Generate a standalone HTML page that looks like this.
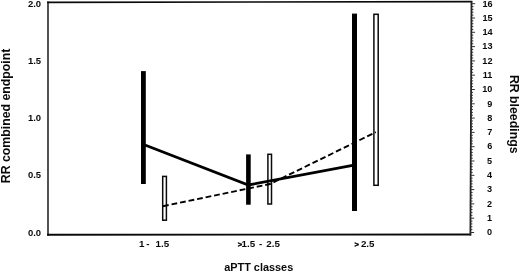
<!DOCTYPE html>
<html><head><meta charset="utf-8">
<style>
html,body{margin:0;padding:0;background:#fff;}
body{width:520px;height:272px;overflow:hidden;}
svg{display:block}
text{font-family:"Liberation Sans",sans-serif;font-weight:bold;fill:#0a0a0a;}
</style></head><body>
<svg width="520" height="272" viewBox="0 0 520 272">
<rect width="520" height="272" fill="#fff"/>
<path d="M48.0 235.70000000000002 L48.0 1.4999999999999998" fill="none" stroke="#4a4a4a" stroke-width="1.9"/>
<path d="M47.15 2.3 L472.3 1.7" fill="none" stroke="#0a0a0a" stroke-width="1.7"/>
<path d="M47.15 234.8 L471.2 234.5" fill="none" stroke="#0a0a0a" stroke-width="1.9"/>
<path d="M471.5 0.8999999999999999 L470.4 235.4" fill="none" stroke="#222" stroke-width="1.8"/>
<g stroke="#333" stroke-width="1">
<line x1="470.41" y1="232.50" x2="474.11" y2="232.50"/>
<line x1="470.42" y1="229.64" x2="472.42" y2="229.64"/>
<line x1="470.44" y1="226.78" x2="472.44" y2="226.78"/>
<line x1="470.45" y1="223.92" x2="472.45" y2="223.92"/>
<line x1="470.46" y1="221.06" x2="472.46" y2="221.06"/>
<line x1="470.48" y1="218.20" x2="474.18" y2="218.20"/>
<line x1="470.49" y1="215.34" x2="472.49" y2="215.34"/>
<line x1="470.50" y1="212.48" x2="472.50" y2="212.48"/>
<line x1="470.52" y1="209.62" x2="472.52" y2="209.62"/>
<line x1="470.53" y1="206.76" x2="472.53" y2="206.76"/>
<line x1="470.54" y1="203.90" x2="474.24" y2="203.90"/>
<line x1="470.56" y1="201.04" x2="472.56" y2="201.04"/>
<line x1="470.57" y1="198.18" x2="472.57" y2="198.18"/>
<line x1="470.59" y1="195.32" x2="472.59" y2="195.32"/>
<line x1="470.60" y1="192.46" x2="472.60" y2="192.46"/>
<line x1="470.61" y1="189.60" x2="474.31" y2="189.60"/>
<line x1="470.63" y1="186.74" x2="472.63" y2="186.74"/>
<line x1="470.64" y1="183.88" x2="472.64" y2="183.88"/>
<line x1="470.65" y1="181.02" x2="472.65" y2="181.02"/>
<line x1="470.67" y1="178.16" x2="472.67" y2="178.16"/>
<line x1="470.68" y1="175.30" x2="474.38" y2="175.30"/>
<line x1="470.69" y1="172.44" x2="472.69" y2="172.44"/>
<line x1="470.71" y1="169.58" x2="472.71" y2="169.58"/>
<line x1="470.72" y1="166.72" x2="472.72" y2="166.72"/>
<line x1="470.73" y1="163.86" x2="472.73" y2="163.86"/>
<line x1="470.75" y1="161.00" x2="474.45" y2="161.00"/>
<line x1="470.76" y1="158.14" x2="472.76" y2="158.14"/>
<line x1="470.77" y1="155.28" x2="472.77" y2="155.28"/>
<line x1="470.79" y1="152.42" x2="472.79" y2="152.42"/>
<line x1="470.80" y1="149.56" x2="472.80" y2="149.56"/>
<line x1="470.81" y1="146.70" x2="474.51" y2="146.70"/>
<line x1="470.83" y1="143.84" x2="472.83" y2="143.84"/>
<line x1="470.84" y1="140.98" x2="472.84" y2="140.98"/>
<line x1="470.86" y1="138.12" x2="472.86" y2="138.12"/>
<line x1="470.87" y1="135.26" x2="472.87" y2="135.26"/>
<line x1="470.88" y1="132.40" x2="474.58" y2="132.40"/>
<line x1="470.90" y1="129.54" x2="472.90" y2="129.54"/>
<line x1="470.91" y1="126.68" x2="472.91" y2="126.68"/>
<line x1="470.92" y1="123.82" x2="472.92" y2="123.82"/>
<line x1="470.94" y1="120.96" x2="472.94" y2="120.96"/>
<line x1="470.95" y1="118.10" x2="474.65" y2="118.10"/>
<line x1="470.96" y1="115.24" x2="472.96" y2="115.24"/>
<line x1="470.98" y1="112.38" x2="472.98" y2="112.38"/>
<line x1="470.99" y1="109.52" x2="472.99" y2="109.52"/>
<line x1="471.00" y1="106.66" x2="473.00" y2="106.66"/>
<line x1="471.02" y1="103.80" x2="474.72" y2="103.80"/>
<line x1="471.03" y1="100.94" x2="473.03" y2="100.94"/>
<line x1="471.04" y1="98.08" x2="473.04" y2="98.08"/>
<line x1="471.06" y1="95.22" x2="473.06" y2="95.22"/>
<line x1="471.07" y1="92.36" x2="473.07" y2="92.36"/>
<line x1="471.09" y1="89.50" x2="474.79" y2="89.50"/>
<line x1="471.10" y1="86.64" x2="473.10" y2="86.64"/>
<line x1="471.11" y1="83.78" x2="473.11" y2="83.78"/>
<line x1="471.13" y1="80.92" x2="473.13" y2="80.92"/>
<line x1="471.14" y1="78.06" x2="473.14" y2="78.06"/>
<line x1="471.15" y1="75.20" x2="474.85" y2="75.20"/>
<line x1="471.17" y1="72.34" x2="473.17" y2="72.34"/>
<line x1="471.18" y1="69.48" x2="473.18" y2="69.48"/>
<line x1="471.19" y1="66.62" x2="473.19" y2="66.62"/>
<line x1="471.21" y1="63.76" x2="473.21" y2="63.76"/>
<line x1="471.22" y1="60.90" x2="474.92" y2="60.90"/>
<line x1="471.23" y1="58.04" x2="473.23" y2="58.04"/>
<line x1="471.25" y1="55.18" x2="473.25" y2="55.18"/>
<line x1="471.26" y1="52.32" x2="473.26" y2="52.32"/>
<line x1="471.27" y1="49.46" x2="473.27" y2="49.46"/>
<line x1="471.29" y1="46.60" x2="474.99" y2="46.60"/>
<line x1="471.30" y1="43.74" x2="473.30" y2="43.74"/>
<line x1="471.31" y1="40.88" x2="473.31" y2="40.88"/>
<line x1="471.33" y1="38.02" x2="473.33" y2="38.02"/>
<line x1="471.34" y1="35.16" x2="473.34" y2="35.16"/>
<line x1="471.36" y1="32.30" x2="475.06" y2="32.30"/>
<line x1="471.37" y1="29.44" x2="473.37" y2="29.44"/>
<line x1="471.38" y1="26.58" x2="473.38" y2="26.58"/>
<line x1="471.40" y1="23.72" x2="473.40" y2="23.72"/>
<line x1="471.41" y1="20.86" x2="473.41" y2="20.86"/>
<line x1="471.42" y1="18.00" x2="475.12" y2="18.00"/>
<line x1="471.44" y1="15.14" x2="473.44" y2="15.14"/>
<line x1="471.45" y1="12.28" x2="473.45" y2="12.28"/>
<line x1="471.46" y1="9.42" x2="473.46" y2="9.42"/>
<line x1="471.48" y1="6.56" x2="473.48" y2="6.56"/>
<line x1="471.49" y1="3.70" x2="475.19" y2="3.70"/>
</g>
<rect x="141" y="71.1" width="4.8" height="112.9" fill="#000"/>
<rect x="246.1" y="154.4" width="4.6" height="50.3" fill="#000"/>
<rect x="352" y="13.6" width="5" height="197.4" fill="#000"/>
<rect x="162.7" y="176.4" width="3.7" height="43.8" fill="#fff" stroke="#0a0a0a" stroke-width="1.5"/>
<rect x="267.9" y="154.3" width="3.6" height="49.7" fill="#fff" stroke="#0a0a0a" stroke-width="1.5"/>
<rect x="373.9" y="14.3" width="4.3" height="171" fill="#fff" stroke="#0a0a0a" stroke-width="1.5"/>
<path d="M143 144.3 L248.3 185.0 L354 165.2" fill="none" stroke="#000" stroke-width="2.8" stroke-linejoin="miter"/>
<path d="M163 206.2 L270 184 L375.8 132.2" fill="none" stroke="#000" stroke-width="1.9" stroke-dasharray="5.8 2.9"/>
<text transform="translate(41.1,7.15) scale(0.97,1)" font-size="9.8" text-anchor="end">2.0</text>
<text transform="translate(41.1,64.30) scale(0.97,1)" font-size="9.8" text-anchor="end">1.5</text>
<text transform="translate(41.1,121.40) scale(0.97,1)" font-size="9.8" text-anchor="end">1.0</text>
<text transform="translate(41.1,178.20) scale(0.97,1)" font-size="9.8" text-anchor="end">0.5</text>
<text transform="translate(41.1,235.70) scale(0.97,1)" font-size="9.8" text-anchor="end">0.0</text>
<text transform="translate(492.00,235.15) scale(0.93,1)" font-size="9.8" text-anchor="end">0</text>
<text transform="translate(492.04,220.86) scale(0.93,1)" font-size="9.8" text-anchor="end">1</text>
<text transform="translate(492.08,206.57) scale(0.93,1)" font-size="9.8" text-anchor="end">2</text>
<text transform="translate(492.11,192.28) scale(0.93,1)" font-size="9.8" text-anchor="end">3</text>
<text transform="translate(492.15,177.99) scale(0.93,1)" font-size="9.8" text-anchor="end">4</text>
<text transform="translate(492.19,163.70) scale(0.93,1)" font-size="9.8" text-anchor="end">5</text>
<text transform="translate(492.23,149.41) scale(0.93,1)" font-size="9.8" text-anchor="end">6</text>
<text transform="translate(492.26,135.12) scale(0.93,1)" font-size="9.8" text-anchor="end">7</text>
<text transform="translate(492.30,120.83) scale(0.93,1)" font-size="9.8" text-anchor="end">8</text>
<text transform="translate(492.34,106.54) scale(0.93,1)" font-size="9.8" text-anchor="end">9</text>
<text transform="translate(492.38,92.25) scale(0.93,1)" font-size="9.8" text-anchor="end">10</text>
<text transform="translate(492.41,77.96) scale(0.93,1)" font-size="9.8" text-anchor="end">11</text>
<text transform="translate(492.45,63.67) scale(0.93,1)" font-size="9.8" text-anchor="end">12</text>
<text transform="translate(492.49,49.38) scale(0.93,1)" font-size="9.8" text-anchor="end">13</text>
<text transform="translate(492.53,35.09) scale(0.93,1)" font-size="9.8" text-anchor="end">14</text>
<text transform="translate(492.56,20.80) scale(0.93,1)" font-size="9.8" text-anchor="end">15</text>
<text transform="translate(492.60,6.51) scale(0.93,1)" font-size="9.8" text-anchor="end">16</text>
<text y="247.1" font-size="9.8" xml:space="preserve"><tspan x="139.1">1 </tspan><tspan x="146.3">- </tspan><tspan x="155.5">1.5</tspan></text>
<text y="247.1" font-size="9.8" xml:space="preserve"><tspan x="237.7" font-size="7.6" stroke="#0a0a0a" stroke-width="0.4">&gt;</tspan><tspan x="241.5">1.5 </tspan><tspan x="259.1">- </tspan><tspan x="266.35">2.5</tspan></text>
<text y="247.1" font-size="9.8" xml:space="preserve"><tspan x="354.6" font-size="7.6" stroke="#0a0a0a" stroke-width="0.4">&gt; </tspan><tspan x="360.9">2.5</tspan></text>
<text x="258.7" y="270.7" font-size="10.9" text-anchor="middle">aPTT classes</text>
<text transform="translate(9.8,115.9) rotate(-90)" font-size="12.3" text-anchor="middle">RR combined endpoint</text>
<text transform="translate(509.7,114.2) rotate(90) scale(1,1.05)" font-size="12.3" text-anchor="middle">RR bleedings</text>
</svg>
</body></html>
